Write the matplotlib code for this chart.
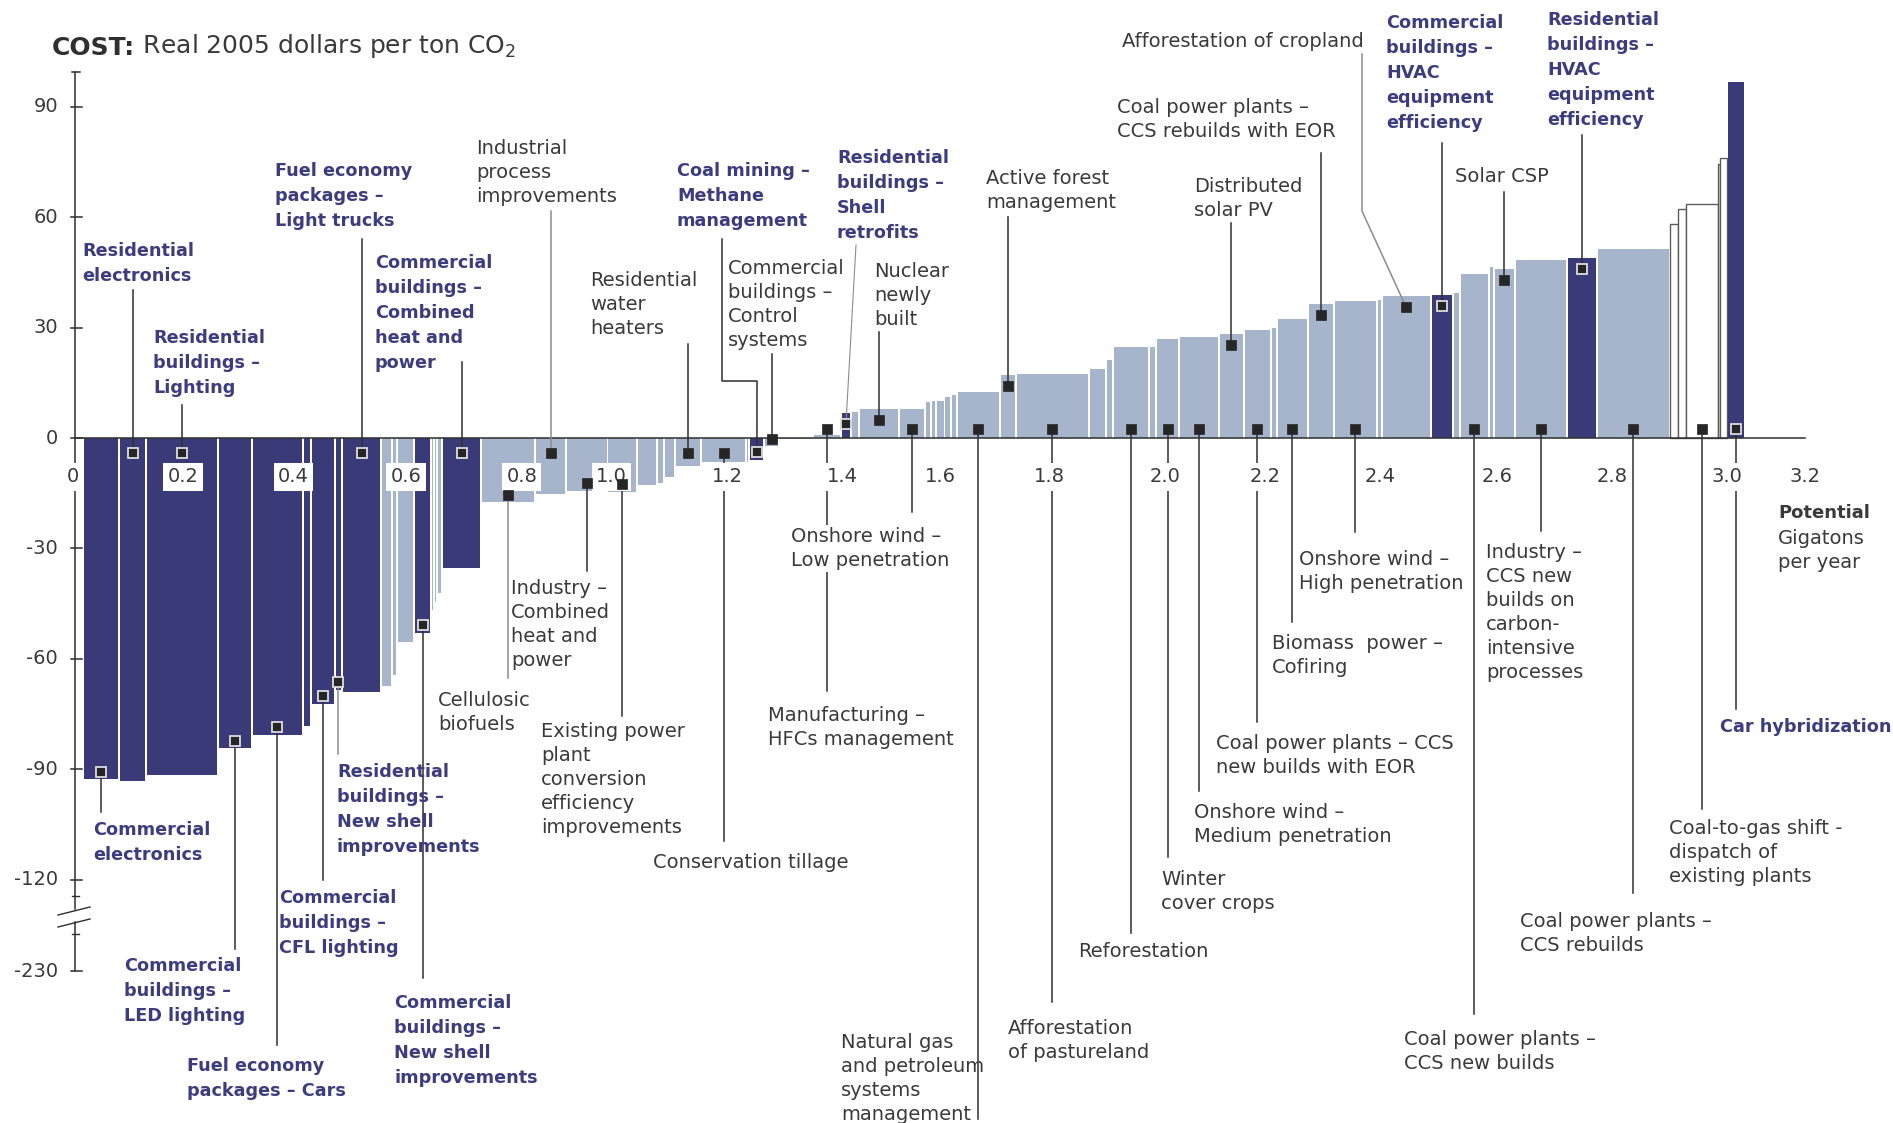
import numpy as np
import matplotlib
matplotlib.use("Agg")
import matplotlib.pyplot as plt

plt.rcParams["font.family"] = ["DejaVu Sans"]

# ---- data ----
# abatement levers left to right: width = potential (Gt CO2/yr), cost = $/t CO2
start = 0.018
widths = [0.0661, 0.0489, 0.1295, 0.0616, 0.0924, 0.0154, 0.0426, 0.0127, 0.0716,
          0.0190, 0.0091, 0.0317, 0.0299, 0.0063, 0.0045, 0.0091, 0.0716,
          0.0978, 0.0553, 0.0752, 0.0534, 0.0371, 0.0118, 0.0208, 0.0471, 0.0806,
          0.0063, 0.0272, 0.0272, 0.0607,
          0.0507, 0.0181, 0.0154, 0.0725, 0.0462, 0.0109, 0.0091, 0.0154, 0.0118,
          0.0100, 0.0788,
          0.0290, 0.1313, 0.0317, 0.0127, 0.0643, 0.0136, 0.0417, 0.0716, 0.0462,
          0.0480, 0.0118, 0.0553,
          0.0480, 0.0770, 0.0091, 0.0888, 0.0408, 0.0118, 0.0525, 0.0091, 0.0389,
          0.0933, 0.0543, 0.1332,
          0.0145, 0.0145, 0.0571, 0.0036, 0.0136, 0.0326]
costs = [-92.6, -93.1, -91.6, -84.2, -80.6, -78.1, -72.1, -68.3, -68.9,
         -67.3, -64.3, -55.4, -52.9, -46.6, -44.6, -42.0, -35.3,
         -17.5, -15.1, -14.3, -14.6, -12.7, -12.2, -10.7, -7.7, -6.6,
         -6.4, -5.9, -2.3, -0.4,
         0.8, 6.7, 7.0, 8.0, 7.9, 9.7, 10.0, 10.1, 11.2,
         11.8, 12.4,
         17.2, 17.4, 18.7, 21.2, 24.8, 24.8, 26.9, 27.3, 28.2,
         29.3, 29.9, 32.3,
         36.5, 37.1, 37.4, 38.5, 38.9, 39.4, 44.4, 46.4, 46.0,
         48.4, 48.9, 51.4,
         58.2, 62.1, 63.6, 74.3, 76.1, 96.7]
# D = highlighted lever, L = other lever, W = outlined lever
kinds = list("DDDDDDDDD" "LLLDLLLD" "LLLLLLLLL" "LDLL"
             "LDLLLLLLL" "LL" "LLLLLLLLLLLL" "LLLLDLLLLLDL" "WWWWWD")

xtick_labels = ["0", "0.2", "0.4", "0.6", "0.8", "1.0", "1.2", "1.4", "1.6",
                "1.8", "2.0", "2.2", "2.4", "2.6", "2.8", "3.0", "3.2"]
xtick_pos = [0.0, 0.199, 0.399, 0.603, 0.813, 0.976, 1.185, 1.393, 1.571,
             1.768, 1.978, 2.159, 2.368, 2.580, 2.788, 2.996, 3.138]
ytick_vals = [90, 60, 30, 0, -30, -60, -90, -120, -230]

# ---- look ----
DARK = "#3a3a78"
LIGHT = "#a7b5cc"
TXT = "#3a3a3a"
BLUE = "#3c3c7e"
LINE = "#2e2e2e"
GRAYLINE = "#8c8c8c"

W, H = 1893, 1123
X0, XS = 73, 552.0      # pixel of 0 Gt, pixels per Gt
Y0, YS = 438, 3.683     # pixel of $0, pixels per $


def gx(px):
    return (px - X0) / XS


def gy(py):
    return (Y0 - py) / YS


def ypos(v):
    # axis is broken below -120
    return v if v >= -120 else -120 + (v + 120) * 0.225


fig = plt.figure(figsize=(W / 100, H / 100), dpi=100)
ax = fig.add_axes([0, 0, 1, 1])
ax.set_xlim(gx(0), gx(W))
ax.set_ylim(gy(H), gy(0))
ax.axis("off")

widths = np.array(widths)
costs = np.array(costs)
lefts = start + np.concatenate([[0], np.cumsum(widths)[:-1]])
centers = lefts + widths / 2

gap = 0.0036
for l, w, c, k in zip(lefts, widths, costs, kinds):
    if k == "W":
        ax.bar(l, c, width=w, align="edge", facecolor="white",
               edgecolor="#5c5c5c", linewidth=1.0, zorder=1)
        continue
    dw = max(w - gap, w * 0.45)
    ax.bar(l + (w - dw) / 2, c, width=dw, align="edge",
           color=DARK if k == "D" else LIGHT, linewidth=0, zorder=1)

# zero line
ax.plot([gx(75), gx(1805)], [0, 0], color=LINE, lw=1.1, zorder=3)

# y axis with a break
xa = gx(75)
ax.plot([xa, xa], [gy(72), gy(909)], color=LINE, lw=1.1, zorder=3)
ax.plot([xa, xa], [gy(922), ypos(-230)], color=LINE, lw=1.1, zorder=3)
ax.plot([gx(72), gx(80)], [gy(72)] * 2, color=LINE, lw=1.1, zorder=3)
for py in (896, 934):
    ax.plot([gx(72), gx(79)], [gy(py)] * 2, color=LINE, lw=1.0, zorder=3)
for py in (915, 927):
    ax.plot([gx(58), gx(90)], [gy(py), gy(py - 8)], color=LINE, lw=1.0, zorder=3)
for v in ytick_vals:
    ax.plot([gx(71), gx(82)], [ypos(v)] * 2, color=LINE, lw=1.1, zorder=3)
    ax.text(gx(58), ypos(v), str(v), ha="right", va="center",
            fontsize=14, color=TXT)

for lab, p in zip(xtick_labels, xtick_pos):
    ax.text(p, gy(477), lab, ha="center", va="center", fontsize=14,
            color=TXT, zorder=5,
            bbox=dict(boxstyle="square,pad=0.22", fc="white", ec="none"))

# title
t1 = ax.text(gx(52), gy(60), "COST:", fontsize=18, fontweight="bold",
             color="#2f2f2f", ha="left", va="bottom")
ax.annotate(" Real 2005 dollars per ton CO$_2$", xy=(1, 0), xycoords=t1,
            fontsize=18, color="#3a3a3a", ha="left", va="bottom")

# lever labels: bar, marker spot, text, highlighted, text x, text top, leader end
labels = [
    (1, "base", "Residential\nelectronics", True, 82, 242, 290),
    (2, "base", "Residential\nbuildings –\nLighting", True, 153, 329, 405),
    (8, "base", "Fuel economy\npackages –\nLight trucks", True, 275, 162, 239),
    (16, "base", "Commercial\nbuildings –\nCombined\nheat and\npower", True, 375, 254, 362),
    (18, "base", "Industrial\nprocess\nimprovements", False, 476, 139, 211),
    (24, "base", "Residential\nwater\nheaters", False, 590, 271, 344),
    (27, "end", "Coal mining –\nMethane\nmanagement", True, 677, 162,
     [(757, 381), (722, 381), (722, 239)]),
    (28, "end", "Commercial\nbuildings –\nControl\nsystems", False, 728, 259, 354),
    (31, "end", "Residential\nbuildings –\nShell\nretrofits", True, 837, 149, [(856, 245)]),
    (33, "end", "Nuclear\nnewly\nbuilt", False, 874, 262, 332),
    (41, "end", "Active forest\nmanagement", False, 986, 169, 217),
    (49, "end", "Distributed\nsolar PV", False, 1194, 177, 223),
    (53, "end", "Coal power plants –\nCCS rebuilds with EOR", False, 1117, 98, 153),
    (56, "end", "Afforestation of cropland", False, 1122, 32, [(1362, 211), (1362, 54)]),
    (57, "end", "Commercial\nbuildings –\nHVAC\nequipment\nefficiency", True, 1386, 14, 143),
    (63, "end", "Residential\nbuildings –\nHVAC\nequipment\nefficiency", True, 1547, 11, 135),
    (61, "end", "Solar CSP", False, 1455, 167, 192),
    (0, "end", "Commercial\nelectronics", True, 93, 821, 812),
    (3, "end", "Commercial\nbuildings –\nLED lighting", True, 124, 957, 949),
    (4, "end", "Fuel economy\npackages – Cars", True, 187, 1057, 1045),
    (6, "end", "Commercial\nbuildings –\nCFL lighting", True, 279, 889, 880),
    (7, "end", "Residential\nbuildings –\nNew shell\nimprovements", True, 337, 763, 754),
    (12, "end", "Commercial\nbuildings –\nNew shell\nimprovements", True, 394, 994, 978),
    (17, "end", "Cellulosic\nbiofuels", False, 438, 691, 678),
    (19, "end", "Industry –\nCombined\nheat and\npower", False, 511, 579, 571),
    (20, "end", "Existing power\nplant\nconversion\nefficiency\nimprovements", False, 541, 722, 716),
    (25, "base", "Conservation tillage", False, 653, 853, 841),
    (34, "base", "Onshore wind –\nLow penetration", False, 791, 527, 512),
    (30, "base", "Manufacturing –\nHFCs management", False, 768, 706, 691),
    (40, "base", "Natural gas\nand petroleum\nsystems\nmanagement", False, 841, 1033, 1119),
    (42, "base", "Afforestation\nof pastureland", False, 1008, 1019, 1002),
    (45, "base", "Reforestation", False, 1078, 942, 933),
    (47, "base", "Winter\ncover crops", False, 1161, 870, 857),
    (48, "base", "Onshore wind –\nMedium penetration", False, 1194, 803, 791),
    (50, "base", "Coal power plants – CCS\nnew builds with EOR", False, 1216, 734, 722),
    (52, "base", "Biomass  power –\nCofiring", False, 1272, 634, 622),
    (54, "base", "Onshore wind –\nHigh penetration", False, 1299, 550, 532),
    (59, "base", "Coal power plants –\nCCS new builds", False, 1404, 1030, 1014),
    (62, "base", "Industry –\nCCS new\nbuilds on\ncarbon-\nintensive\nprocesses", False, 1486, 543, 531),
    (64, "base", "Coal power plants –\nCCS rebuilds", False, 1520, 912, 893),
    (67, "base", "Coal-to-gas shift -\ndispatch of\nexisting plants", False, 1669, 819, 809),
    (70, "base", "Car hybridization", True, 1720, 718, 709),
]
soft_leaders = {17, 18, 31, 56, 7}

for i, spot, txt, hi, tx, ty, lead in labels:
    c = costs[i]
    if spot == "end":
        my = c - (3.0 if c > 0 else -2.0)
    else:
        my = 2.4 if c > 0 else -4.2
    mx = centers[i]
    if isinstance(lead, list):
        xs = [mx] + [gx(p[0]) for p in lead]
        ys = [my] + [gy(p[1]) for p in lead]
    else:
        xs, ys = [mx, mx], [my, gy(lead)]
    soft = i in soft_leaders
    ax.plot(xs, ys, color=GRAYLINE if soft else LINE,
            lw=0.8 if i == 31 else 1.1, zorder=3)
    if kinds[i] == "D":
        ax.plot(mx, my, "s", ms=6.5, mfc="#262626", mec="#dcdcdc", mew=1.3, zorder=6)
    else:
        ax.plot(mx, my, "s", ms=6.5, mfc="#262626", mec="#262626", mew=0.5, zorder=6)
    box = dict(boxstyle="square,pad=0.1", fc="white", ec="none") if i == 34 else None
    if hi:
        ax.text(gx(tx), gy(ty), txt, ha="left", va="top", fontsize=12.7,
                fontweight="bold", color=BLUE, linespacing=1.5, zorder=7)
    else:
        ax.text(gx(tx), gy(ty), txt, ha="left", va="top", fontsize=14,
                color=TXT, linespacing=1.34, zorder=7, bbox=box)

ax.text(gx(1778), gy(504), "Potential", ha="left", va="top", fontsize=13,
        fontweight="bold", color=TXT)
ax.text(gx(1778), gy(529), "Gigatons\nper year", ha="left", va="top",
        fontsize=14, color=TXT, linespacing=1.34)

fig.savefig("out.png", dpi=100)
